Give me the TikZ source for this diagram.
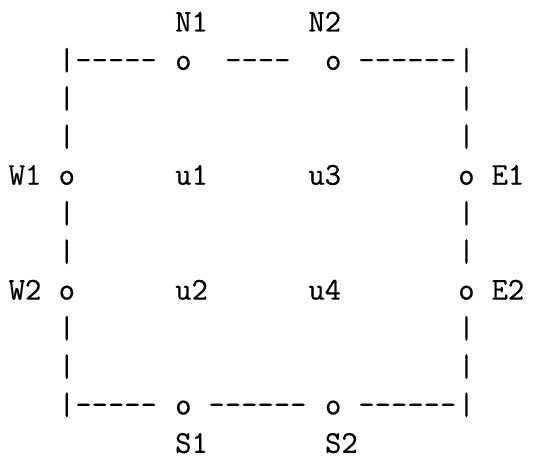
\documentclass[tikz,border=0pt]{standalone}
\usepackage{fontspec}
\newfontfamily\asciifont{Latin Modern Mono}[FakeBold=0.5]
\newcommand\asciiCW{16.65}
\newcommand\asciiLH{38.3}
\tikzset{
  asc/.style={anchor=base west, inner sep=0pt, outer sep=0pt,
    text depth=0pt, font=\fontsize{31.7}{38}\asciifont, text=black},
}
% \asc{name}{col}{row}{text}
\newcommand\asc[4]{%
  \node[asc] (#1) at ({(8.7+\asciiCW*#2)*1pt},{(457-31.5-\asciiLH*(#3-1))*1pt}) {#4};}
\begin{document}
\begin{tikzpicture}
\useasboundingbox (0,0) rectangle (545pt,457pt);
% row 1
\asc{N1}{10}{1}{N1}
\asc{N2}{18}{1}{N2}
% row 2
\asc{tl}{3}{2}{|}
\asc{td1}{4}{2}{-{}-{}-{}-{}-}
\asc{n1}{10}{2}{o}
\asc{td2}{13}{2}{-{}-{}-{}-}
\asc{n2}{19}{2}{o}
\asc{td3}{21}{2}{-{}-{}-{}-{}-{}-}
\asc{tr}{27}{2}{|}
% vertical bars
\foreach \r in {3,4,6,7,9,10}{
  \asc{l\r}{3}{\r}{|}
  \asc{r\r}{27}{\r}{|}
}
% row 5
\asc{W1}{0}{5}{W1}
\asc{w1}{3}{5}{o}
\asc{u1}{10}{5}{u1}
\asc{u3}{18}{5}{u3}
\asc{e1}{27}{5}{o}
\asc{E1}{29}{5}{E1}
% row 8
\asc{W2}{0}{8}{W2}
\asc{w2}{3}{8}{o}
\asc{u2}{10}{8}{u2}
\asc{u4}{18}{8}{u4}
\asc{e2}{27}{8}{o}
\asc{E2}{29}{8}{E2}
% row 11
\asc{bl}{3}{11}{|}
\asc{bd1}{4}{11}{-{}-{}-{}-{}-}
\asc{s1}{10}{11}{o}
\asc{bd2}{12}{11}{-{}-{}-{}-{}-{}-}
\asc{s2}{19}{11}{o}
\asc{bd3}{21}{11}{-{}-{}-{}-{}-{}-}
\asc{br}{27}{11}{|}
% row 12
\asc{S1}{10}{12}{S1}
\asc{S2}{19}{12}{S2}
\end{tikzpicture}
\end{document}
